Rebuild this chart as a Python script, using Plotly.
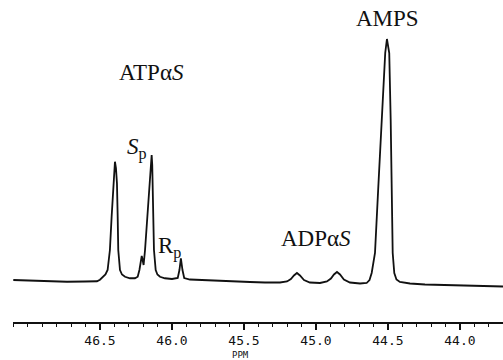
import plotly.graph_objects as go

# 31P NMR spectrum trace: chemical shift (ppm) and intensity (arb. units)
ppm = [47.102, 46.986, 46.847, 46.729, 46.604, 46.521, 46.500, 46.477, 46.462, 46.447,
       46.431, 46.419, 46.408, 46.401, 46.396, 46.389, 46.382, 46.377, 46.373, 46.361,
       46.347, 46.326, 46.292, 46.257, 46.238, 46.226, 46.215, 46.210, 46.205, 46.197,
       46.187, 46.172, 46.158, 46.147, 46.141, 46.137, 46.134, 46.130, 46.125, 46.113,
       46.101, 46.083, 46.049, 46.000, 45.960, 45.948, 45.938, 45.927, 45.915, 45.875,
       45.806, 45.701, 45.597, 45.458, 45.354, 45.250, 45.201, 45.174, 45.153, 45.132,
       45.111, 45.083, 45.042, 44.972, 44.924, 44.896, 44.875, 44.854, 44.833, 44.806,
       44.764, 44.694, 44.648, 44.628, 44.613, 44.590, 44.567, 44.542, 44.519, 44.507,
       44.491, 44.481, 44.474, 44.467, 44.456, 44.441, 44.417, 44.347, 44.243, 44.104,
       43.965, 43.826, 43.701]
intensity = [0.8, 0.6, 0.5, 0.1, 0.2, 0.3, 0.9, 2.0, 3.0, 4.8,
             12.8, 26.1, 39.5, 45.6, 48.1, 45.6, 39.5, 26.1, 12.8, 4.8,
             3.0, 2.1, 1.5, 1.5, 2.1, 4.8, 8.8, 10.4, 9.2, 6.8,
             12.8, 26.1, 39.5, 46.8, 50.8, 46.8, 39.5, 26.1, 12.8, 4.8,
             3.0, 2.1, 1.5, 1.2, 1.6, 4.8, 9.5, 4.8, 1.6, 1.0,
             0.8, 0.6, 0.4, 0.0, -0.2, -0.2, 0.2, 1.2, 2.6, 3.6,
             2.6, 0.8, -0.2, -0.4, 0.2, 1.4, 3.0, 4.0, 3.0, 1.0,
             -0.2, -0.6, -0.4, 0.8, 3.6, 11.6, 38.0, 64.8, 91.6, 97.2,
             91.6, 64.8, 38.0, 11.6, 3.6, 1.0, 0.0, -0.6, -1.0, -1.2,
             -1.4, -1.6, -1.8]

# Peak labels
label_text = ["ATPα<i>S</i>", "AMPS", "<i>S</i><sub>p</sub>", "R<sub>p</sub>", "ADPα<i>S</i>"]
label_ppm = [46.139, 44.50, 46.243, 46.014, 45.00]
label_int = [84.0, 105.6, 53.6, 14.0, 17.6]

tick_vals = [46.5, 46.0, 45.5, 45.0, 44.5, 44.0]
tick_text = ["46.5", "46.0", "45.5", "45.0", "44.5", "44.0"]

fig = go.Figure()
fig.add_trace(go.Scatter(x=ppm, y=intensity, mode="lines",
                         line=dict(color="#111111", width=1.8),
                         hoverinfo="skip", showlegend=False))

for t, xv, yv in zip(label_text, label_ppm, label_int):
    fig.add_annotation(x=xv, y=yv, text=t, showarrow=False,
                       font=dict(family="Liberation Serif", size=23, color="#111111"),
                       xanchor="center", yanchor="middle")

fig.add_annotation(x=45.521, y=-0.101, yref="paper", text="PPM", showarrow=False,
                   font=dict(family="DejaVu Sans Mono", size=9, color="#111111"),
                   xanchor="center", yanchor="middle")

fig.update_xaxes(range=[47.104, 43.701], showgrid=False, zeroline=False,
                 showline=True, linecolor="#111111", linewidth=1.5,
                 ticks="outside", ticklen=6, tickwidth=1.5, tickcolor="#111111",
                 tickvals=tick_vals, ticktext=tick_text, automargin=False,
                 tickfont=dict(family="DejaVu Sans Mono", size=13, color="#111111"),
                 minor=dict(dtick=0.1, tick0=44.0, ticks="outside", ticklen=3,
                            tickwidth=1.2, tickcolor="#111111"))
fig.update_yaxes(range=[-16, 112.8], visible=False, showgrid=False, zeroline=False)

fig.update_layout(width=503, height=360, margin=dict(l=13, r=0, t=0, b=38),
                  paper_bgcolor="white", plot_bgcolor="white")

fig.write_html("out.html", config={"displayModeBar": False},
               post_script="document.body.style.margin='0';")
